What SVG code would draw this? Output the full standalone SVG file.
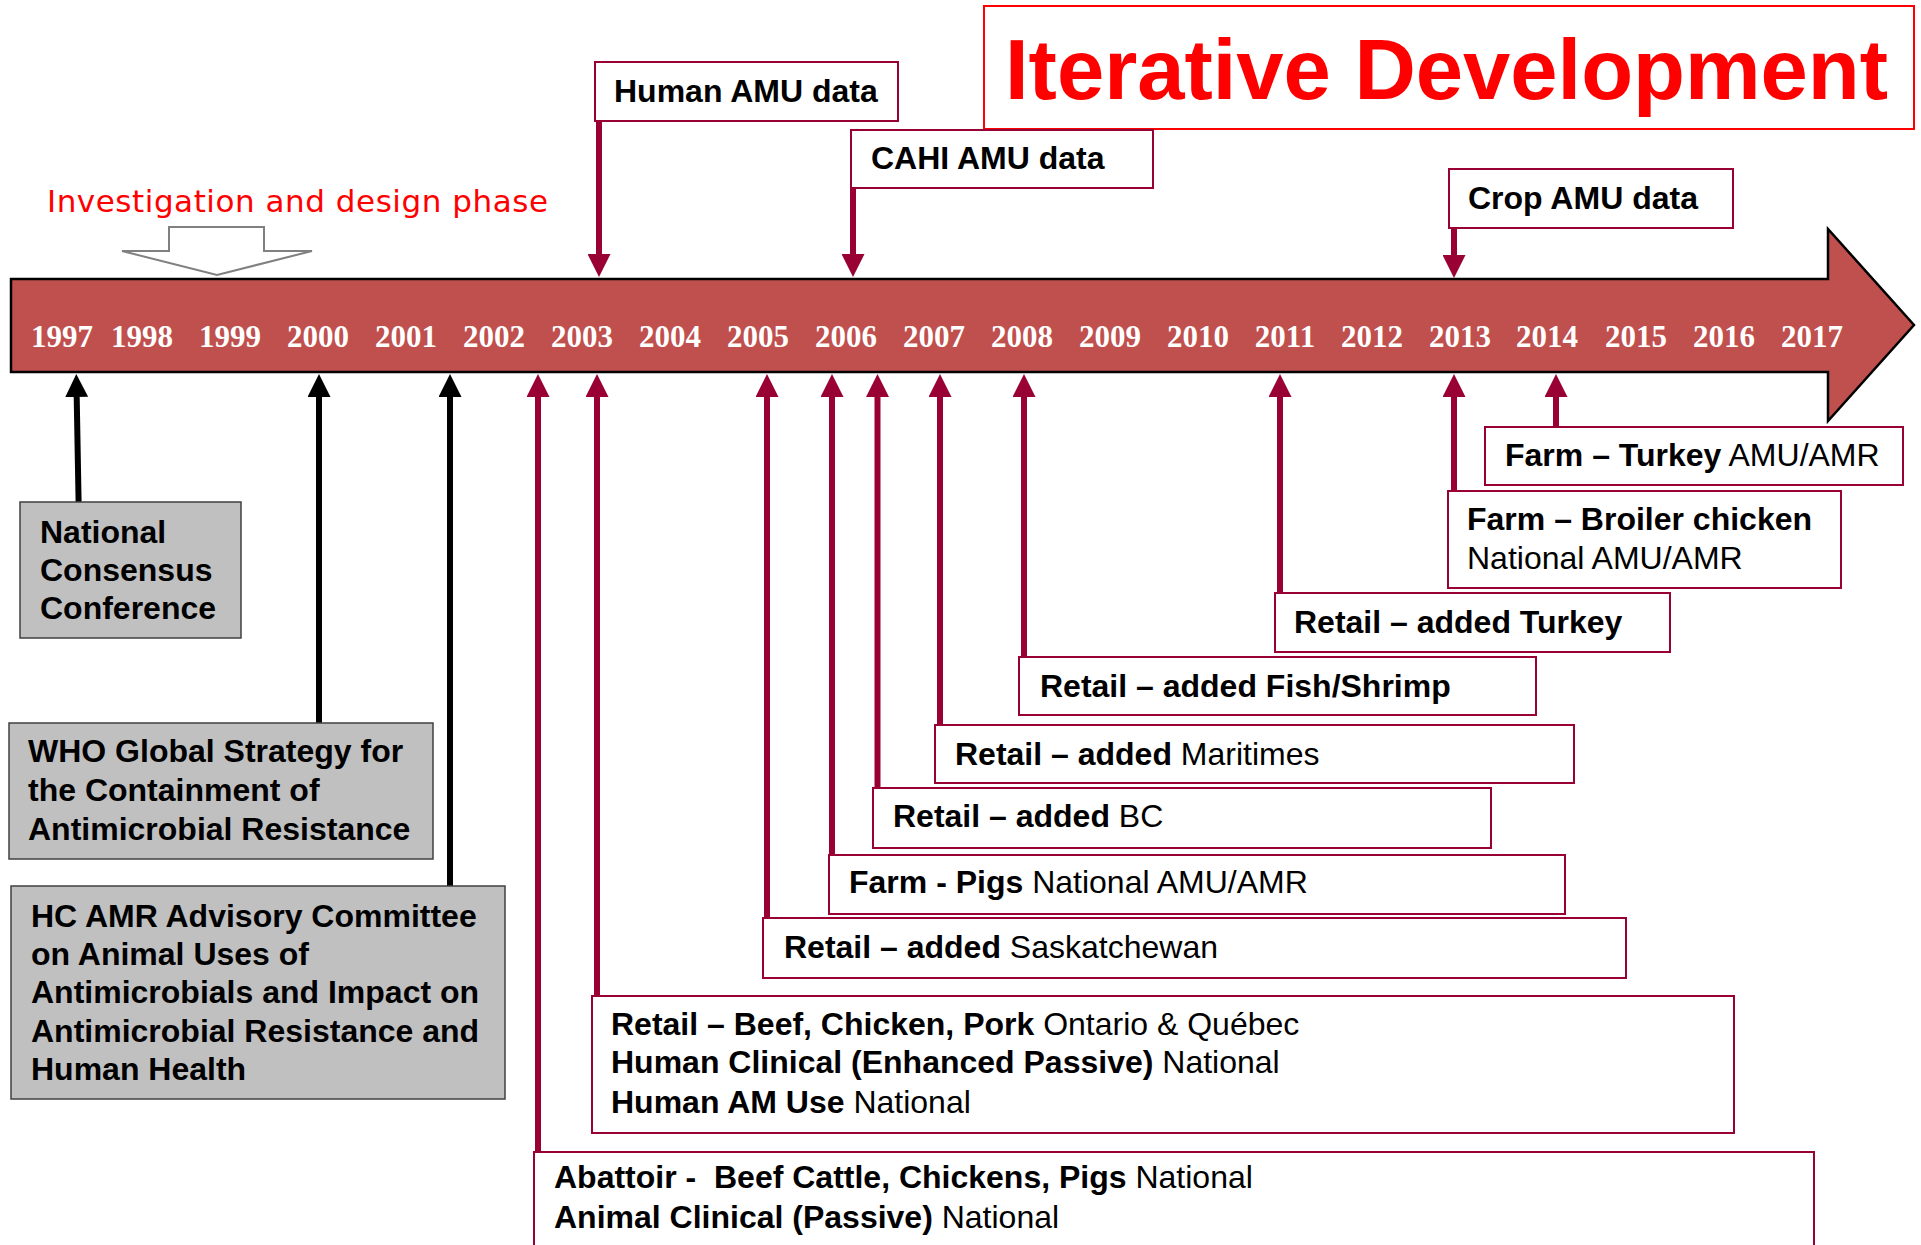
<svg xmlns="http://www.w3.org/2000/svg" width="1921" height="1245" viewBox="0 0 1921 1245">
<defs>
<style>
.t{font-family:"Liberation Sans",Arial,sans-serif;font-size:32px;font-weight:bold;fill:#000;}
.n{font-weight:normal;}
.rb{fill:#fff;stroke:#990033;stroke-width:2;}
.gb{fill:#C0C0C0;stroke:#404040;stroke-width:1.5;}
.yr{font-family:"Liberation Serif","Times New Roman",serif;font-size:31px;font-weight:bold;fill:#fff;text-anchor:middle;}
.rl{stroke:#990033;stroke-width:6;fill:none;marker-end:url(#ar);}
.bl{stroke:#000;stroke-width:6;fill:none;marker-end:url(#ab);}
</style>
<marker id="ar" viewBox="0 -11.5 23 23" refX="0" refY="0" markerWidth="23" markerHeight="23" markerUnits="userSpaceOnUse" orient="auto"><path d="M0,-11.5 L23,0 L0,11.5 z" fill="#990033"/></marker>
<marker id="ab" viewBox="0 -11.5 23 23" refX="0" refY="0" markerWidth="23" markerHeight="23" markerUnits="userSpaceOnUse" orient="auto"><path d="M0,-11.5 L23,0 L0,11.5 z" fill="#000"/></marker>
</defs>
<rect width="1921" height="1245" fill="#fff"/>

<g id="title">
<rect x="984" y="6" width="930" height="123" fill="#fff" stroke="#FF0000" stroke-width="2"/>
<text x="1005" y="99" font-family="Liberation Sans,Arial,sans-serif" font-size="85" font-weight="bold" fill="#FF0000" textLength="883">Iterative Development</text>
</g>

<g id="phase">
<text x="47" y="212" font-family="DejaVu Sans,Verdana,sans-serif" font-size="31" fill="#FF0000" textLength="501">Investigation and design phase</text>
<polygon points="169,227 264,227 264,251 312,251 217,275 122,251 169,251" fill="#fff" stroke="#808080" stroke-width="2"/>
</g>

<g id="timeline">
<polygon points="11,279 1828,279 1828,229 1914,325 1828,421 1828,372 11,372" fill="#C0504D" stroke="#000" stroke-width="2.5"/>
<text class="yr" x="62" y="347">1997</text>
<text class="yr" x="142" y="347">1998</text>
<text class="yr" x="230" y="347">1999</text>
<text class="yr" x="318" y="347">2000</text>
<text class="yr" x="406" y="347">2001</text>
<text class="yr" x="494" y="347">2002</text>
<text class="yr" x="582" y="347">2003</text>
<text class="yr" x="670" y="347">2004</text>
<text class="yr" x="758" y="347">2005</text>
<text class="yr" x="846" y="347">2006</text>
<text class="yr" x="934" y="347">2007</text>
<text class="yr" x="1022" y="347">2008</text>
<text class="yr" x="1110" y="347">2009</text>
<text class="yr" x="1198" y="347">2010</text>
<text class="yr" x="1285" y="347">2011</text>
<text class="yr" x="1372" y="347">2012</text>
<text class="yr" x="1460" y="347">2013</text>
<text class="yr" x="1547" y="347">2014</text>
<text class="yr" x="1636" y="347">2015</text>
<text class="yr" x="1724" y="347">2016</text>
<text class="yr" x="1812" y="347">2017</text>
</g>

<g id="connectors">
<line class="rl" x1="599" y1="121" x2="599" y2="254"/>
<line class="rl" x1="853" y1="188" x2="853" y2="254"/>
<line class="rl" x1="1454" y1="228" x2="1454" y2="255"/>
<line class="bl" x1="78.6" y1="502" x2="76.7" y2="397"/>
<line class="bl" x1="319" y1="723" x2="319" y2="397"/>
<line class="bl" x1="450" y1="886" x2="450" y2="397"/>
<line class="rl" x1="538" y1="1152" x2="538" y2="397"/>
<line class="rl" x1="597" y1="996" x2="597" y2="397"/>
<line class="rl" x1="767" y1="918" x2="767" y2="397"/>
<line class="rl" x1="832" y1="855" x2="832" y2="397"/>
<line class="rl" x1="877.5" y1="788" x2="877.5" y2="397"/>
<line class="rl" x1="940" y1="725" x2="940" y2="397"/>
<line class="rl" x1="1024" y1="657" x2="1024" y2="397"/>
<line class="rl" x1="1280" y1="593" x2="1280" y2="397"/>
<line class="rl" x1="1454" y1="491" x2="1454" y2="397"/>
<line class="rl" x1="1556" y1="427" x2="1556" y2="397"/>
</g>

<g id="human-amu">
<rect class="rb" x="595" y="62" width="303" height="59"/>
<text class="t" x="614" y="102">Human AMU data</text>
</g>
<g id="cahi-amu">
<rect class="rb" x="851" y="130" width="302" height="58"/>
<text class="t" x="871" y="169">CAHI AMU data</text>
</g>
<g id="crop-amu">
<rect class="rb" x="1449" y="169" width="284" height="59"/>
<text class="t" x="1468" y="209">Crop AMU data</text>
</g>

<g id="national-consensus">
<rect class="gb" x="20" y="502" width="221" height="136"/>
<text class="t" x="40" y="543">National</text>
<text class="t" x="40" y="581">Consensus</text>
<text class="t" x="40" y="619">Conference</text>
</g>
<g id="who">
<rect class="gb" x="9" y="723" width="424" height="136"/>
<text class="t" x="28" y="762">WHO Global Strategy for</text>
<text class="t" x="28" y="801">the Containment of</text>
<text class="t" x="28" y="840">Antimicrobial Resistance</text>
</g>
<g id="hc-amr">
<rect class="gb" x="11" y="886" width="494" height="213"/>
<text class="t" x="31" y="927">HC AMR Advisory Committee</text>
<text class="t" x="31" y="965">on Animal Uses of</text>
<text class="t" x="31" y="1003">Antimicrobials and Impact on</text>
<text class="t" x="31" y="1042">Antimicrobial Resistance and</text>
<text class="t" x="31" y="1080">Human Health</text>
</g>

<g id="farm-turkey">
<rect class="rb" x="1485" y="427" width="418" height="58"/>
<text class="t" x="1505" y="466">Farm – Turkey<tspan class="n"> AMU/AMR</tspan></text>
</g>
<g id="farm-broiler">
<rect class="rb" x="1448" y="491" width="393" height="97"/>
<text class="t" x="1467" y="530">Farm – Broiler chicken</text>
<text class="t n" x="1467" y="569">National AMU/AMR</text>
</g>
<g id="retail-turkey">
<rect class="rb" x="1275" y="593" width="395" height="59"/>
<text class="t" x="1294" y="633">Retail – added Turkey</text>
</g>
<g id="retail-fish">
<rect class="rb" x="1019" y="657" width="517" height="58"/>
<text class="t" x="1040" y="697">Retail – added Fish/Shrimp</text>
</g>
<g id="retail-maritimes">
<rect class="rb" x="935" y="725" width="639" height="58"/>
<text class="t" x="955" y="765">Retail – added<tspan class="n"> Maritimes</tspan></text>
</g>
<g id="retail-bc">
<rect class="rb" x="873" y="788" width="618" height="60"/>
<text class="t" x="893" y="827">Retail – added<tspan class="n"> BC</tspan></text>
</g>
<g id="farm-pigs">
<rect class="rb" x="829" y="855" width="736" height="59"/>
<text class="t" x="849" y="893">Farm - Pigs<tspan class="n"> National AMU/AMR</tspan></text>
</g>
<g id="retail-sask">
<rect class="rb" x="763" y="918" width="863" height="60"/>
<text class="t" x="784" y="958">Retail – added<tspan class="n"> Saskatchewan</tspan></text>
</g>
<g id="retail-beef">
<rect class="rb" x="592" y="996" width="1142" height="137"/>
<text class="t" x="611" y="1035">Retail – Beef, Chicken, Pork<tspan class="n"> Ontario &amp; Québec</tspan></text>
<text class="t" x="611" y="1073">Human Clinical (Enhanced Passive)<tspan class="n"> National</tspan></text>
<text class="t" x="611" y="1113">Human AM Use<tspan class="n"> National</tspan></text>
</g>
<g id="abattoir">
<rect class="rb" x="534" y="1152" width="1280" height="110"/>
<text class="t" x="554" y="1188" style="white-space:pre">Abattoir -  Beef Cattle, Chickens, Pigs<tspan class="n"> National</tspan></text>
<text class="t" x="554" y="1228">Animal Clinical (Passive)<tspan class="n"> National</tspan></text>
</g>
</svg>
